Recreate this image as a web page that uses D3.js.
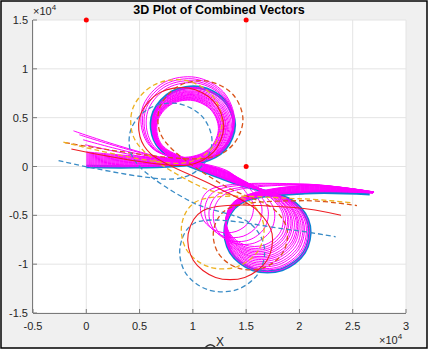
<!DOCTYPE html>
<html><head><meta charset="utf-8">
<script src="https://cdn.jsdelivr.net/npm/d3@7"></script>
<style>html,body{margin:0;padding:0;background:#fff;} svg{display:block;font-family:"Liberation Sans",Arial,sans-serif;}</style>
</head><body><svg id="c" width="429" height="350"></svg>
<script>
// ---- axis ticks ----
const xTicks = [-0.5, 0, 0.5, 1, 1.5, 2, 2.5, 3];
const xTickLabels = ["-0.5", "0", "0.5", "1", "1.5", "2", "2.5", "3"];
const yTicks = [-1.5, -1, -0.5, 0, 0.5, 1, 1.5];
const yTickLabels = ["-1.5", "-1", "-0.5", "0", "0.5", "1", "1.5"];

// ---- red markers (x10^4) ----
const markerX = [0, 1.5, 1.5];
const markerY = [1.5, 1.5, 0];

// ---- main curves (x10^4): base, orange dashed, blue dashed, yellow dashed, red ----
const curveNames = ["base", "orange", "blueDash", "yellow", "red"];
const startX  = [0.00, -0.20, -0.26, -0.215, -0.14];
const startY  = [0.00, 0.245, 0.06, 0.25, 0.18];
const upCX    = [1.00, 1.07, 0.79, 0.845, 0.89];
const upCY    = [0.425, 0.48, 0.26, 0.46, 0.41];
const upR     = [0.39, 0.40, 0.39, 0.43, 0.40];
const mid1X   = [1.35, 1.30, 1.00, 1.10, 1.20];
const mid1Y   = [-0.15, -0.20, -0.37, -0.22, -0.20];
const lowCX   = [1.70, 1.54, 1.275, 1.28, 1.35];
const lowCY   = [-0.68, -0.71, -0.885, -0.66, -0.76];
const lowR    = [0.40, 0.35, 0.40, 0.39, 0.40];
const mid2X   = [2.05, 2.05, 1.93, 2.00, 1.95];
const mid2Y   = [-0.27, -0.35, -0.65, -0.33, -0.42];
const endX    = [2.66, 2.54, 2.34, 2.48, 2.39];
const endY    = [-0.28, -0.40, -0.72, -0.37, -0.50];

// ---- magenta family (x10^4) ----
const magStartX = [0,0,0,0,0,0,0,0,0,0,0,0,0,0,0,0,-0.01,-0.03,-0.065,-0.12];
const magStartY = [0.0,0.01,0.02,0.03,0.04,0.05,0.06,0.07,0.08,0.09,0.10,0.11,0.12,0.13,0.14,0.15,0.223,0.274,0.325,0.365];
const magUpCX = [1.00,0.995,0.99,0.985,0.98,0.975,0.97,0.97,0.965,0.96,0.96,0.955,0.955,0.95,0.95,0.95,0.97,0.96,0.955,0.95];
const magUpCY = [0.425,0.42,0.415,0.41,0.408,0.405,0.402,0.40,0.398,0.396,0.394,0.393,0.392,0.391,0.39,0.39,0.45,0.46,0.47,0.48];
const magUpR  = [0.386,0.38,0.372,0.365,0.358,0.352,0.345,0.338,0.332,0.326,0.32,0.314,0.308,0.302,0.296,0.29,0.41,0.42,0.43,0.44];
const magMid1X = [1.35,1.35,1.35,1.35,1.35,1.35,1.35,1.35,1.35,1.35,1.35,1.35,1.35,1.35,1.35,1.35,1.35,1.35,1.35,1.35];
const magMid1Y = [-0.15,-0.145,-0.14,-0.135,-0.13,-0.125,-0.12,-0.115,-0.11,-0.105,-0.10,-0.095,-0.09,-0.087,-0.083,-0.08,-0.075,-0.07,-0.065,-0.06];
const magLowCX = [1.70,1.69,1.685,1.675,1.67,1.66,1.65,1.645,1.64,1.63,1.62,1.615,1.605,1.60,1.59,1.58,1.48,1.43,1.38,1.32];
const magLowCY = [-0.68,-0.67,-0.665,-0.655,-0.645,-0.635,-0.625,-0.615,-0.607,-0.60,-0.59,-0.582,-0.575,-0.567,-0.56,-0.55,-0.51,-0.49,-0.46,-0.43];
const magLowR  = [0.398,0.39,0.382,0.373,0.365,0.357,0.348,0.34,0.332,0.324,0.315,0.307,0.298,0.29,0.28,0.27,0.29,0.28,0.27,0.25];
const magMid2X = [2.05,2.05,2.05,2.05,2.05,2.05,2.05,2.05,2.05,2.05,2.05,2.05,2.05,2.05,2.05,2.05,2.05,2.05,2.05,2.05];
const magMid2Y = [-0.265,-0.26,-0.255,-0.25,-0.245,-0.24,-0.235,-0.23,-0.225,-0.22,-0.215,-0.21,-0.205,-0.2,-0.196,-0.192,-0.188,-0.185,-0.182,-0.18];
const magEndX = [2.69,2.69,2.69,2.69,2.69,2.69,2.69,2.695,2.695,2.695,2.695,2.695,2.695,2.7,2.7,2.7,2.7,2.7,2.7,2.7];
const magEndY = [-0.272,-0.271,-0.27,-0.27,-0.269,-0.268,-0.268,-0.267,-0.266,-0.266,-0.265,-0.265,-0.264,-0.264,-0.263,-0.263,-0.262,-0.262,-0.261,-0.26];

// construction angles for the loops (degrees); upper loop counter-clockwise, lower clockwise
const upperAngles = [-80, -40, 0, 40, 80, 120, 160, 195, 225];
const lowerAngles = [50, 10, -30, -70, -110, -150, 170, 130];

const svg = d3.select("#c");
const W = 429, H = 350;
const L = 33, R = 406, T = 20, B = 313;
const x = d3.scaleLinear().domain([-0.5, 3]).range([L, R]);
const y = d3.scaleLinear().domain([-1.5, 1.5]).range([B, T]);

// background + frame
svg.append("rect").attr("x", 0).attr("y", 0).attr("width", W).attr("height", H).attr("fill", "#ffffff");
svg.append("rect").attr("x", 1).attr("y", 1).attr("width", 426).attr("height", 347)
  .attr("fill", "#f0f0f0").attr("stroke", "#000").attr("stroke-width", 1.5);
svg.append("rect").attr("x", L).attr("y", T).attr("width", R - L).attr("height", B - T).attr("fill", "#fff");

// grid
const grid = svg.append("g");
grid.selectAll("line.vx").data(xTicks).join("line")
  .attr("x1", d => x(d)).attr("x2", d => x(d)).attr("y1", T).attr("y2", B)
  .attr("stroke", "#e4e4e4").attr("stroke-width", 1);
grid.selectAll("line.hy").data(yTicks).join("line")
  .attr("y1", d => y(d)).attr("y2", d => y(d)).attr("x1", L).attr("x2", R)
  .attr("stroke", "#e4e4e4").attr("stroke-width", 1);

function loopPt(cx, cy, r, a) {
  const t = a * Math.PI / 180;
  return [cx + r * Math.cos(t), cy + r * Math.sin(t)];
}
function buildPath(sx, sy, ucx, ucy, ur, m1x, m1y, lcx, lcy, lr, m2x, m2y, ex, ey) {
  const pts = [[sx, sy]];
  upperAngles.forEach(a => pts.push(loopPt(ucx, ucy, ur, a)));
  pts.push([m1x, m1y]);
  lowerAngles.forEach(a => pts.push(loopPt(lcx, lcy, lr, a)));
  pts.push([m2x, m2y]);
  pts.push([ex, ey]);
  return pts;
}
const line = d3.line().x(d => x(d[0])).y(d => y(d[1])).curve(d3.curveCatmullRom.alpha(0.5));

const plot = svg.append("g");
function curveData(i) {
  return buildPath(startX[i], startY[i], upCX[i], upCY[i], upR[i], mid1X[i], mid1Y[i],
    lowCX[i], lowCY[i], lowR[i], mid2X[i], mid2Y[i], endX[i], endY[i]);
}
// base thick blue
plot.append("path").attr("d", line(curveData(0))).attr("fill", "none")
  .attr("stroke", "#0b84d4").attr("stroke-width", 3.4).attr("stroke-linejoin", "round");

// magenta family
const magData = magStartX.map((_, i) => buildPath(magStartX[i], magStartY[i], magUpCX[i], magUpCY[i], magUpR[i],
  magMid1X[i], magMid1Y[i], magLowCX[i], magLowCY[i], magLowR[i], magMid2X[i], magMid2Y[i], magEndX[i], magEndY[i]));
plot.selectAll("path.mag").data(magData).join("path").attr("class", "mag")
  .attr("d", d => line(d)).attr("fill", "none").attr("stroke", "#ff00ff").attr("stroke-width", 1);

// colored curves
const styles = {
  orange:   {c: "#D95319", dash: "5,3", w: 1.3},
  blueDash: {c: "#3a8cc6", dash: "5,3", w: 1.3},
  yellow:   {c: "#EDB120", dash: "5,3", w: 1.3},
  red:      {c: "#ee1d23", dash: null, w: 1.1}
};
for (let i = 1; i < curveNames.length; i++) {
  const s = styles[curveNames[i]];
  const p = plot.append("path").attr("d", line(curveData(i))).attr("fill", "none")
    .attr("stroke", s.c).attr("stroke-width", s.w);
  if (s.dash) p.attr("stroke-dasharray", s.dash);
}

// markers
svg.selectAll("circle.m").data(markerX).join("circle").attr("class", "m")
  .attr("cx", (d, i) => x(markerX[i])).attr("cy", (d, i) => y(markerY[i])).attr("r", 2.5).attr("fill", "#ff0000");

// axes lines and ticks
const ax = svg.append("g").attr("stroke", "#7a7a7a").attr("stroke-width", 1);
ax.append("line").attr("x1", L).attr("x2", R).attr("y1", B + 0.5).attr("y2", B + 0.5);
ax.append("line").attr("x1", L - 0.5).attr("x2", L - 0.5).attr("y1", T).attr("y2", B);
ax.selectAll("line.xt").data(xTicks).join("line").attr("class", "xt")
  .attr("x1", d => x(d)).attr("x2", d => x(d)).attr("y1", B).attr("y2", B - 4);
ax.selectAll("line.yt").data(yTicks).join("line").attr("class", "yt")
  .attr("y1", d => y(d)).attr("y2", d => y(d)).attr("x1", L).attr("x2", L + 4);

// tick labels
const tl = svg.append("g").attr("fill", "#262626").attr("font-size", 11);
tl.selectAll("text.xl").data(xTicks).join("text").attr("class", "xl")
  .attr("x", d => x(d)).attr("y", B + 17).attr("text-anchor", "middle").text((d, i) => xTickLabels[i]);
tl.selectAll("text.yl").data(yTicks).join("text").attr("class", "yl")
  .attr("x", L - 5).attr("y", d => y(d) + 4).attr("text-anchor", "end").text((d, i) => yTickLabels[i]);

// exponent labels
function expLabel(xp, yp) {
  const t = svg.append("text").attr("x", xp).attr("y", yp).attr("fill", "#262626").attr("font-size", 11);
  t.append("tspan").text("×10");
  t.append("tspan").attr("font-size", 8).attr("dy", -5).text("4");
}
expLabel(33, 15);
expLabel(379, 344);

// title
svg.append("text").attr("x", 219).attr("y", 14).attr("text-anchor", "middle")
  .attr("font-weight", "bold").attr("font-size", 12.5).attr("fill", "#000").text("3D Plot of Combined Vectors");

// axis label
svg.append("text").attr("x", 220).attr("y", 346).attr("text-anchor", "middle")
  .attr("font-size", 12).attr("fill", "#262626").text("X");
svg.append("path").attr("d", "M205,348 Q210,342 215,347").attr("fill", "none").attr("stroke", "#333").attr("stroke-width", 1.6);
</script></body></html>
